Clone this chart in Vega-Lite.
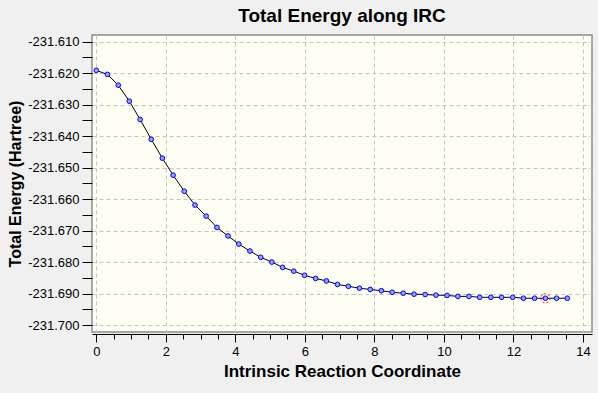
{
  "$schema": "https://vega.github.io/schema/vega-lite/v6.json",
  "width": 500,
  "height": 297,
  "autosize": {"type": "none"},
  "padding": {"left": 92, "top": 35, "right": 6, "bottom": 61},
  "background": "#f0f0f0",
  "title": {"text": "Total Energy along IRC", "font": "Liberation Sans", "fontSize": 19, "fontWeight": "bold", "color": "#000000", "anchor": "middle", "offset": 9},
  "data": {"values": [
    {"irc": 0.00, "energy": -231.6191, "current": false},
    {"irc": 0.32, "energy": -231.6204, "current": false},
    {"irc": 0.63, "energy": -231.6238, "current": false},
    {"irc": 0.95, "energy": -231.6289, "current": false},
    {"irc": 1.26, "energy": -231.6347, "current": false},
    {"irc": 1.58, "energy": -231.6410, "current": false},
    {"irc": 1.90, "energy": -231.6470, "current": false},
    {"irc": 2.21, "energy": -231.6524, "current": false},
    {"irc": 2.53, "energy": -231.6575, "current": false},
    {"irc": 2.84, "energy": -231.6619, "current": false},
    {"irc": 3.16, "energy": -231.6654, "current": false},
    {"irc": 3.47, "energy": -231.6690, "current": false},
    {"irc": 3.79, "energy": -231.6717, "current": false},
    {"irc": 4.10, "energy": -231.6743, "current": false},
    {"irc": 4.42, "energy": -231.6765, "current": false},
    {"irc": 4.73, "energy": -231.6785, "current": false},
    {"irc": 5.05, "energy": -231.6800, "current": false},
    {"irc": 5.36, "energy": -231.6817, "current": false},
    {"irc": 5.68, "energy": -231.6829, "current": false},
    {"irc": 5.99, "energy": -231.6842, "current": false},
    {"irc": 6.31, "energy": -231.6852, "current": false},
    {"irc": 6.62, "energy": -231.6860, "current": false},
    {"irc": 6.94, "energy": -231.6871, "current": false},
    {"irc": 7.25, "energy": -231.6877, "current": false},
    {"irc": 7.57, "energy": -231.6883, "current": false},
    {"irc": 7.88, "energy": -231.6887, "current": false},
    {"irc": 8.20, "energy": -231.6891, "current": false},
    {"irc": 8.51, "energy": -231.6896, "current": false},
    {"irc": 8.83, "energy": -231.6899, "current": false},
    {"irc": 9.14, "energy": -231.6902, "current": false},
    {"irc": 9.46, "energy": -231.6903, "current": false},
    {"irc": 9.77, "energy": -231.6905, "current": false},
    {"irc": 10.09, "energy": -231.6906, "current": false},
    {"irc": 10.40, "energy": -231.6909, "current": false},
    {"irc": 10.72, "energy": -231.6909, "current": false},
    {"irc": 11.03, "energy": -231.6912, "current": false},
    {"irc": 11.35, "energy": -231.6912, "current": false},
    {"irc": 11.66, "energy": -231.6912, "current": false},
    {"irc": 11.98, "energy": -231.6912, "current": false},
    {"irc": 12.29, "energy": -231.6915, "current": false},
    {"irc": 12.61, "energy": -231.6915, "current": false},
    {"irc": 12.92, "energy": -231.6915, "current": true},
    {"irc": 13.24, "energy": -231.6915, "current": false},
    {"irc": 13.55, "energy": -231.6915, "current": false}
  ]},
  "encoding": {
    "x": {
      "field": "irc", "type": "quantitative",
      "scale": {"domain": [-0.124, 14.26], "nice": false, "zero": false},
      "axis": {
        "title": "Intrinsic Reaction Coordinate",
        "titleFontSize": 17,
        "values": [0, 0.5, 1, 1.5, 2, 2.5, 3, 3.5, 4, 4.5, 5, 5.5, 6, 6.5, 7, 7.5, 8, 8.5, 9, 9.5, 10, 10.5, 11, 11.5, 12, 12.5, 13, 13.5, 14],
        "labelExpr": "round(datum.value * 2) % 4 === 0 ? format(datum.value, 'd') : ''",
        "offset": 2,
        "domain": true,
        "domainColor": "#000000",
        "domainWidth": 1,
        "tickColor": "#000000",
        "tickSize": {"condition": {"test": "round(datum.value * 2) % 4 === 0", "value": 8}, "value": 5},
        "grid": true,
        "gridColor": "#c4c4c4",
        "gridDash": [4, 3],
        "gridOpacity": {"condition": {"test": "round(datum.value * 2) % 4 === 0", "value": 1}, "value": 0},
        "labelPadding": 3,
        "labelFlush": false,
        "labelOverlap": false,
        "titlePadding": 5
      }
    },
    "y": {
      "field": "energy", "type": "quantitative",
      "scale": {"domain": [-231.70222, -231.60787], "nice": false, "zero": false},
      "axis": {
        "title": "Total Energy (Hartree)",
        "titleFontSize": 16,
        "values": [-231.700, -231.695, -231.690, -231.685, -231.680, -231.675, -231.670, -231.665, -231.660, -231.655, -231.650, -231.645, -231.640, -231.635, -231.630, -231.625, -231.620, -231.615, -231.610],
        "labelExpr": "round(datum.value * 1000) % 10 === 0 ? '-' + format(-datum.value, '.3f') : ''",
        "domain": false,
        "tickColor": "#000000",
        "tickSize": 10,
        "grid": true,
        "gridColor": "#c4c4c4",
        "gridDash": [4, 3],
        "gridOpacity": {"condition": {"test": "round(datum.value * 1000) % 10 === 0", "value": 1}, "value": 0},
        "labelPadding": 3,
        "labelOverlap": false,
        "labelFlush": false,
        "titlePadding": 4
      }
    }
  },
  "layer": [
    {"mark": {"type": "line", "color": "#000000", "strokeWidth": 1}},
    {"mark": {"type": "point", "shape": "circle", "filled": true, "color": "#9aa3e2", "stroke": "#0000ff", "strokeWidth": 1, "size": 22, "opacity": 1}},
    {"transform": [{"filter": "datum.current"}], "mark": {"type": "point", "shape": "circle", "filled": false, "color": "#ff0000", "strokeDash": [2, 2], "strokeWidth": 1, "size": 85, "opacity": 1}}
  ],
  "config": {
    "view": {"stroke": "#8c8c8c", "strokeWidth": 1.5, "fill": "#fefef5"},
    "axis": {
      "labelFont": "Liberation Sans", "labelFontSize": 13, "labelColor": "#000000",
      "titleFont": "Liberation Sans", "titleFontWeight": "bold", "titleColor": "#000000"
    }
  }
}
